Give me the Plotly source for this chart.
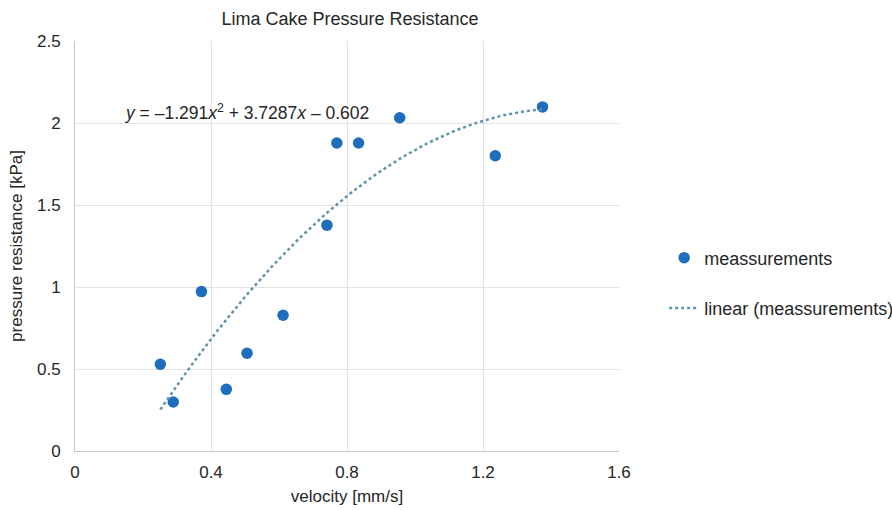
import numpy as np
import plotly.graph_objects as go

# Measured velocity [mm/s] and pressure resistance [kPa]
velocity = [0.251, 0.289, 0.372, 0.445, 0.506, 0.612, 0.741, 0.770, 0.834, 0.955, 1.236, 1.375]
pressure = [0.529, 0.299, 0.972, 0.376, 0.596, 0.828, 1.377, 1.878, 1.878, 2.032, 1.800, 2.098]

# Quadratic trendline coefficients (a*x^2 + b*x + c), as printed on the chart
trend_coef = [-1.291, 3.7287, -0.602]

x_ticks = [0, 0.4, 0.8, 1.2, 1.6]
x_tick_text = ["0", "0.4", "0.8", "1.2", "1.6"]
y_ticks = [0, 0.5, 1, 1.5, 2, 2.5]
y_tick_text = ["0", "0.5", "1", "1.5", "2", "2.5"]

FONT = "Liberation Sans, Arial, sans-serif"
TEXT = "#262626"

trend_x = np.linspace(min(velocity), max(velocity), 120)
trend_y = np.polyval(trend_coef, trend_x)

fig = go.Figure()
fig.add_trace(go.Scatter(
    x=velocity, y=pressure, mode="markers", name="meassurements",
    marker=dict(color="#1f6dbd", size=11.5, line=dict(width=0)),
    legendgroup="a",
))
fig.add_trace(go.Scatter(
    x=trend_x, y=trend_y, mode="lines", name="linear (meassurements)",
    line=dict(color="#5f93aa", width=2.5, dash="dot"),
    legendgroup="b",
))

eq = ("<i>y</i> = \u20131.291<i>x</i><sup>2</sup> + 3.7287<i>x</i> \u2013 0.602")
fig.add_annotation(
    x=0.141, y=2.069, xref="x", yref="y", text=eq, showarrow=False,
    xanchor="left", yanchor="middle", font=dict(family=FONT, size=17.5, color=TEXT),
)

fig.update_layout(
    width=892, height=510,
    # keep the plot area fixed; the legend sits in the right margin
    margin=dict(l=75, r=273, t=41, b=59, autoexpand=False),
    paper_bgcolor="white", plot_bgcolor="white",
    font=dict(family=FONT, size=17, color=TEXT),
    title=dict(text="Lima Cake Pressure Resistance", x=350 / 892, xanchor="center",
               y=1 - 19 / 510, yanchor="middle",
               font=dict(family=FONT, size=18, color=TEXT)),
    showlegend=True,
    legend=dict(x=1.083, y=0.516, xanchor="left", yanchor="top",
                font=dict(family=FONT, size=18, color=TEXT),
                tracegroupgap=24, bgcolor="rgba(0,0,0,0)"),
    xaxis=dict(
        range=[0, 1.6], tickvals=x_ticks, ticktext=x_tick_text,
        showgrid=True, gridcolor="#e3e3e3", gridwidth=1,
        showline=True, linecolor="#c8c8c8", linewidth=1,
        zeroline=False, ticks="", ticklabelstandoff=6,
        tickfont=dict(family=FONT, size=17, color=TEXT),
        title=dict(text="velocity [mm/s]", standoff=8,
                   font=dict(family=FONT, size=17, color=TEXT)),
    ),
    yaxis=dict(
        range=[0, 2.5], tickvals=y_ticks, ticktext=y_tick_text,
        showgrid=True, gridcolor="#e3e3e3", gridwidth=1,
        showline=True, linecolor="#c8c8c8", linewidth=1,
        zeroline=False, ticks="", ticklabelstandoff=10,
        tickfont=dict(family=FONT, size=17, color=TEXT),
        title=dict(text="pressure resistance [kPa]", standoff=10,
                   font=dict(family=FONT, size=17, color=TEXT)),
    ),
)

fig.write_html("out.html")
